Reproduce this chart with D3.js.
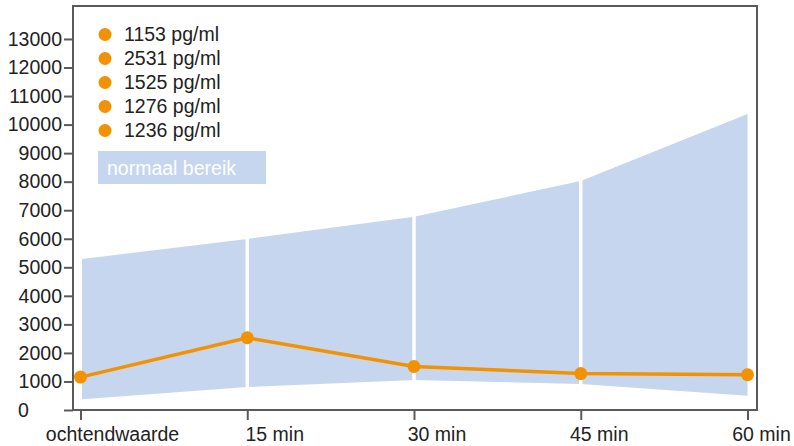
<!DOCTYPE html>
<html><head><meta charset="utf-8">
<script src="https://cdn.jsdelivr.net/npm/d3@7"></script>
<style>body{margin:0;background:#fff}svg{display:block;font-family:"Liberation Sans",Arial,sans-serif}</style>
</head><body><svg id="c" width="794" height="446"></svg>
<script>
const categories = ["ochtendwaarde","15 min","30 min","45 min","60 min"];
const values = [1153, 2531, 1525, 1276, 1236];
const rangeLow = [375, 806, 1051, 911, 501];
const rangeHigh = [5291, 5992, 6773, 8024, 10371];
const yTicks = [0,1000,2000,3000,4000,5000,6000,7000,8000,9000,10000,11000,12000,13000];
const legendLabels = values.map(v => v + " pg/ml");
const bandLabel = "normaal bereik";

const orange = "#f39200", band = "#c6d6ee", axisCol = "#5a5a5a", txt = "#222";
const svg = d3.select("#c");
const L = 73, R = 757, T = 6, B = 410;
const x = d3.scalePoint().domain(categories).range([80.5, 747.5]);
const xLabel = d3.scalePoint().domain(categories).range([112, 761]);
const y = d3.scaleLinear().domain([0, 14155]).range([B, T]);

// band
const data = categories.map((c,i)=>({c, lo: rangeLow[i], hi: rangeHigh[i], v: values[i]}));
svg.append("path").datum(data)
  .attr("d", d3.area().x(d=>x(d.c)+ (d.c===categories[0]?1.5:0)).y0(d=>y(d.lo)).y1(d=>y(d.hi)))
  .attr("fill", band);
// white separators
svg.selectAll("line.sep").data(data.slice(1, -1)).join("line")
  .attr("x1", d=>x(d.c)).attr("x2", d=>x(d.c))
  .attr("y1", d=>y(d.lo)+2).attr("y2", d=>y(d.hi)-2)
  .attr("stroke", "#fff").attr("stroke-width", 3.5);

// frame
svg.append("rect").attr("x", L).attr("y", T).attr("width", R-L).attr("height", B-T)
  .attr("fill","none").attr("stroke", axisCol).attr("stroke-width", 2);

// y axis
const ya = svg.append("g").attr("transform", `translate(${L},0)`)
  .call(d3.axisLeft(y).tickValues(yTicks).tickSize(9).tickPadding(2).tickFormat(d3.format("d")));
ya.select(".domain").remove();
ya.selectAll("line").attr("stroke", axisCol).attr("stroke-width", 2);
ya.selectAll("text").attr("font-size", "19.5px").attr("fill", txt).attr("font-family", null);
ya.selectAll(".tick").filter(d => d === 0).select("text")
  .attr("text-anchor", "start").attr("x", -(L - 18));

// x axis
const xa = svg.append("g").attr("transform", `translate(0,${B})`)
  .call(d3.axisBottom(x).tickSize(10).tickPadding(7));
xa.select(".domain").remove();
xa.selectAll("line").attr("stroke", axisCol).attr("stroke-width", 2);
xa.selectAll("text").attr("font-size", "19.5px").attr("fill", txt).attr("font-family", null)
  .attr("x", d => xLabel(d) - x(d));

// line + points
svg.append("path").datum(data)
  .attr("d", d3.line().x(d=>x(d.c)).y(d=>y(d.v)))
  .attr("fill","none").attr("stroke", orange).attr("stroke-width", 3.5);
svg.selectAll("circle.pt").data(data).join("circle")
  .attr("cx", d=>x(d.c)).attr("cy", d=>y(d.v)).attr("r", 6.5).attr("fill", orange);

// legend
const lg = svg.append("g");
legendLabels.forEach((t,i)=>{
  const cy = 34.5 + i*24;
  lg.append("circle").attr("cx", 105).attr("cy", cy).attr("r", 6.5).attr("fill", orange);
  lg.append("text").attr("x", 124).attr("y", cy).attr("dy","0.35em")
    .attr("font-size","19.5px").attr("fill", txt).text(t);
});
svg.append("rect").attr("x", 98).attr("y", 151).attr("width", 168).attr("height", 33).attr("fill", band);
svg.append("text").attr("x", 107).attr("y", 168).attr("dy","0.35em")
  .attr("font-size","19.5px").attr("fill","#fff").text(bandLabel);
</script></body></html>
